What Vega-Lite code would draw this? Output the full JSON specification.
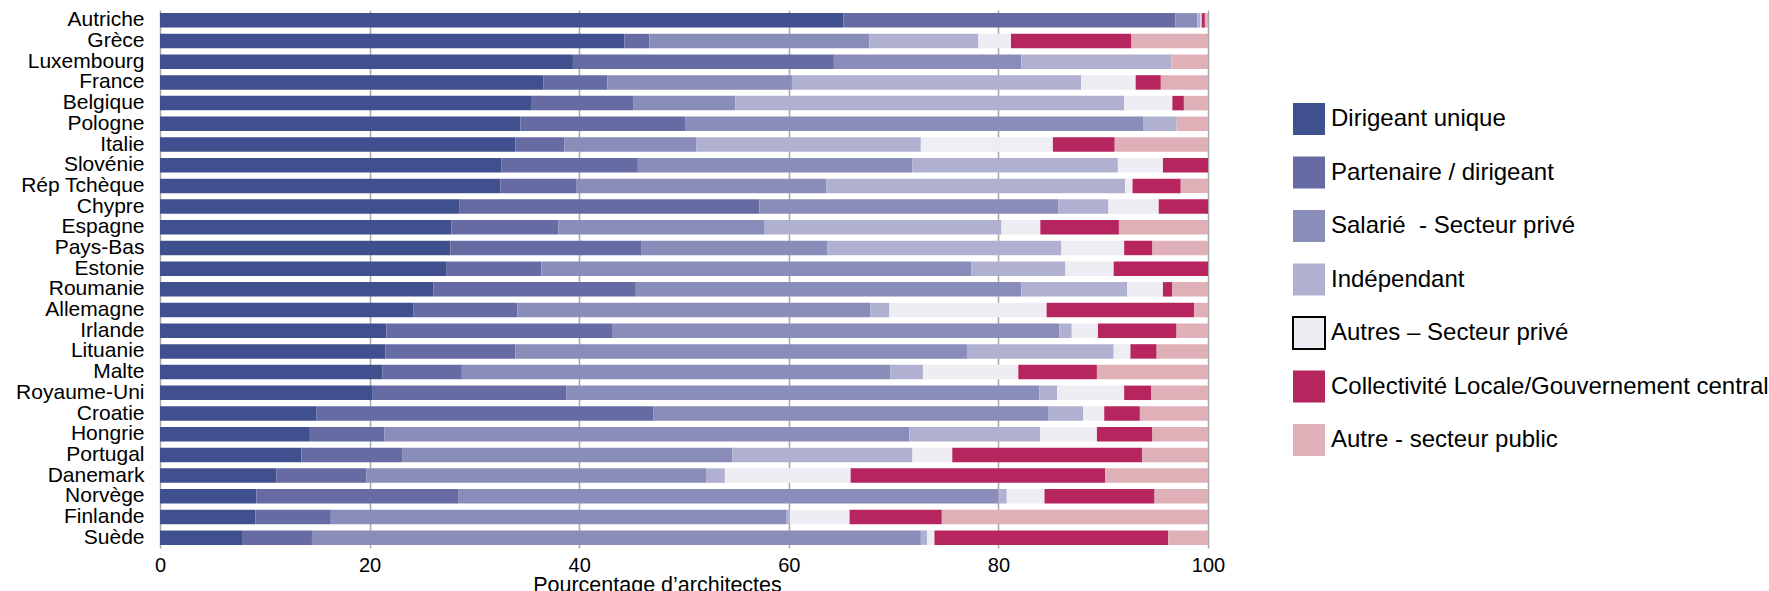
{
  "$schema": "https://vega.github.io/schema/vega-lite/v6.json",
  "width": 1048,
  "height": 538,
  "autosize": {"type": "none"},
  "padding": {"left": 160, "top": 10, "right": 561, "bottom": 43},
  "background": "white",
  "config": {
    "view": {"stroke": null},
    "font": "Liberation Sans",
    "axis": {"labelFont": "Liberation Sans", "titleFont": "Liberation Sans", "labelColor": "black", "titleColor": "black"},
    "legend": {"labelFont": "Liberation Sans", "labelColor": "black"}
  },
  "data": {
    "values": [
      {"pays": "Autriche", "Dirigeant unique": 65.2, "Partenaire / dirigeant": 31.7, "Salarié  - Secteur privé": 2.1, "Indépendant": 0.3, "Autres – Secteur privé": 0.1, "Collectivité Locale/Gouvernement central": 0.3, "Autre - secteur public": 0.3},
      {"pays": "Grèce", "Dirigeant unique": 44.3, "Partenaire / dirigeant": 2.4, "Salarié  - Secteur privé": 21.0, "Indépendant": 10.4, "Autres – Secteur privé": 3.1, "Collectivité Locale/Gouvernement central": 11.5, "Autre - secteur public": 7.3},
      {"pays": "Luxembourg", "Dirigeant unique": 39.4, "Partenaire / dirigeant": 24.9, "Salarié  - Secteur privé": 17.9, "Indépendant": 14.3, "Autres – Secteur privé": 0, "Collectivité Locale/Gouvernement central": 0, "Autre - secteur public": 3.5},
      {"pays": "France", "Dirigeant unique": 36.6, "Partenaire / dirigeant": 6.1, "Salarié  - Secteur privé": 17.6, "Indépendant": 27.6, "Autres – Secteur privé": 5.2, "Collectivité Locale/Gouvernement central": 2.4, "Autre - secteur public": 4.5},
      {"pays": "Belgique", "Dirigeant unique": 35.4, "Partenaire / dirigeant": 9.8, "Salarié  - Secteur privé": 9.7, "Indépendant": 37.1, "Autres – Secteur privé": 4.6, "Collectivité Locale/Gouvernement central": 1.1, "Autre - secteur public": 2.3},
      {"pays": "Pologne", "Dirigeant unique": 34.4, "Partenaire / dirigeant": 15.7, "Salarié  - Secteur privé": 43.7, "Indépendant": 3.2, "Autres – Secteur privé": 0, "Collectivité Locale/Gouvernement central": 0, "Autre - secteur public": 3.0},
      {"pays": "Italie", "Dirigeant unique": 33.9, "Partenaire / dirigeant": 4.7, "Salarié  - Secteur privé": 12.6, "Indépendant": 21.4, "Autres – Secteur privé": 12.6, "Collectivité Locale/Gouvernement central": 5.9, "Autre - secteur public": 8.9},
      {"pays": "Slovénie", "Dirigeant unique": 32.6, "Partenaire / dirigeant": 13.0, "Salarié  - Secteur privé": 26.2, "Indépendant": 19.6, "Autres – Secteur privé": 4.3, "Collectivité Locale/Gouvernement central": 4.3, "Autre - secteur public": 0},
      {"pays": "Rép Tchèque", "Dirigeant unique": 32.5, "Partenaire / dirigeant": 7.2, "Salarié  - Secteur privé": 23.9, "Indépendant": 28.5, "Autres – Secteur privé": 0.7, "Collectivité Locale/Gouvernement central": 4.6, "Autre - secteur public": 2.6},
      {"pays": "Chypre", "Dirigeant unique": 28.6, "Partenaire / dirigeant": 28.6, "Salarié  - Secteur privé": 28.5, "Indépendant": 4.8, "Autres – Secteur privé": 4.8, "Collectivité Locale/Gouvernement central": 4.7, "Autre - secteur public": 0},
      {"pays": "Espagne", "Dirigeant unique": 27.8, "Partenaire / dirigeant": 10.2, "Salarié  - Secteur privé": 19.7, "Indépendant": 22.6, "Autres – Secteur privé": 3.7, "Collectivité Locale/Gouvernement central": 7.5, "Autre - secteur public": 8.5},
      {"pays": "Pays-Bas", "Dirigeant unique": 27.7, "Partenaire / dirigeant": 18.2, "Salarié  - Secteur privé": 17.8, "Indépendant": 22.3, "Autres – Secteur privé": 6.0, "Collectivité Locale/Gouvernement central": 2.7, "Autre - secteur public": 5.3},
      {"pays": "Estonie", "Dirigeant unique": 27.3, "Partenaire / dirigeant": 9.1, "Salarié  - Secteur privé": 41.0, "Indépendant": 9.0, "Autres – Secteur privé": 4.6, "Collectivité Locale/Gouvernement central": 9.0, "Autre - secteur public": 0},
      {"pays": "Roumanie", "Dirigeant unique": 26.1, "Partenaire / dirigeant": 19.3, "Salarié  - Secteur privé": 36.8, "Indépendant": 10.1, "Autres – Secteur privé": 3.4, "Collectivité Locale/Gouvernement central": 0.9, "Autre - secteur public": 3.4},
      {"pays": "Allemagne", "Dirigeant unique": 24.2, "Partenaire / dirigeant": 9.9, "Salarié  - Secteur privé": 33.7, "Indépendant": 1.8, "Autres – Secteur privé": 15.0, "Collectivité Locale/Gouvernement central": 14.1, "Autre - secteur public": 1.3},
      {"pays": "Irlande", "Dirigeant unique": 21.6, "Partenaire / dirigeant": 21.6, "Salarié  - Secteur privé": 42.6, "Indépendant": 1.2, "Autres – Secteur privé": 2.5, "Collectivité Locale/Gouvernement central": 7.5, "Autre - secteur public": 3.0},
      {"pays": "Lituanie", "Dirigeant unique": 21.5, "Partenaire / dirigeant": 12.4, "Salarié  - Secteur privé": 43.1, "Indépendant": 14.0, "Autres – Secteur privé": 1.6, "Collectivité Locale/Gouvernement central": 2.5, "Autre - secteur public": 4.9},
      {"pays": "Malte", "Dirigeant unique": 21.2, "Partenaire / dirigeant": 7.6, "Salarié  - Secteur privé": 40.9, "Indépendant": 3.1, "Autres – Secteur privé": 9.1, "Collectivité Locale/Gouvernement central": 7.5, "Autre - secteur public": 10.6},
      {"pays": "Royaume-Uni", "Dirigeant unique": 20.3, "Partenaire / dirigeant": 18.5, "Salarié  - Secteur privé": 45.1, "Indépendant": 1.7, "Autres – Secteur privé": 6.4, "Collectivité Locale/Gouvernement central": 2.6, "Autre - secteur public": 5.4},
      {"pays": "Croatie", "Dirigeant unique": 14.9, "Partenaire / dirigeant": 32.2, "Salarié  - Secteur privé": 37.7, "Indépendant": 3.3, "Autres – Secteur privé": 2.0, "Collectivité Locale/Gouvernement central": 3.4, "Autre - secteur public": 6.5},
      {"pays": "Hongrie", "Dirigeant unique": 14.3, "Partenaire / dirigeant": 7.1, "Salarié  - Secteur privé": 50.1, "Indépendant": 12.5, "Autres – Secteur privé": 5.4, "Collectivité Locale/Gouvernement central": 5.3, "Autre - secteur public": 5.3},
      {"pays": "Portugal", "Dirigeant unique": 13.5, "Partenaire / dirigeant": 9.6, "Salarié  - Secteur privé": 31.5, "Indépendant": 17.2, "Autres – Secteur privé": 3.8, "Collectivité Locale/Gouvernement central": 18.1, "Autre - secteur public": 6.3},
      {"pays": "Danemark", "Dirigeant unique": 11.1, "Partenaire / dirigeant": 8.6, "Salarié  - Secteur privé": 32.4, "Indépendant": 1.8, "Autres – Secteur privé": 12.0, "Collectivité Locale/Gouvernement central": 24.3, "Autre - secteur public": 9.8},
      {"pays": "Norvège", "Dirigeant unique": 9.2, "Partenaire / dirigeant": 19.3, "Salarié  - Secteur privé": 51.5, "Indépendant": 0.8, "Autres – Secteur privé": 3.6, "Collectivité Locale/Gouvernement central": 10.5, "Autre - secteur public": 5.1},
      {"pays": "Finlande", "Dirigeant unique": 9.1, "Partenaire / dirigeant": 7.2, "Salarié  - Secteur privé": 43.5, "Indépendant": 0.3, "Autres – Secteur privé": 5.7, "Collectivité Locale/Gouvernement central": 8.8, "Autre - secteur public": 25.4},
      {"pays": "Suède", "Dirigeant unique": 7.9, "Partenaire / dirigeant": 6.6, "Salarié  - Secteur privé": 58.1, "Indépendant": 0.6, "Autres – Secteur privé": 0.7, "Collectivité Locale/Gouvernement central": 22.3, "Autre - secteur public": 3.8}
    ]
  },
  "transform": [
    {"fold": ["Dirigeant unique", "Partenaire / dirigeant", "Salarié  - Secteur privé", "Indépendant", "Autres – Secteur privé", "Collectivité Locale/Gouvernement central", "Autre - secteur public"], "as": ["categorie", "valeur"]},
    {"calculate": "indexof(['Dirigeant unique', 'Partenaire / dirigeant', 'Salarié  - Secteur privé', 'Indépendant', 'Autres – Secteur privé', 'Collectivité Locale/Gouvernement central', 'Autre - secteur public'], datum.categorie)", "as": "rang"}
  ],
  "mark": {"type": "bar"},
  "encoding": {
    "y": {
      "field": "pays",
      "type": "nominal",
      "sort": ["Autriche", "Grèce", "Luxembourg", "France", "Belgique", "Pologne", "Italie", "Slovénie", "Rép Tchèque", "Chypre", "Espagne", "Pays-Bas", "Estonie", "Roumanie", "Allemagne", "Irlande", "Lituanie", "Malte", "Royaume-Uni", "Croatie", "Hongrie", "Portugal", "Danemark", "Norvège", "Finlande", "Suède"],
      "scale": {"paddingInner": 0.3, "paddingOuter": 0.15},
      "axis": {"title": null, "domain": false, "ticks": false, "grid": false, "labelFontSize": 21, "labelPadding": 16, "labelLimit": 300}
    },
    "x": {
      "field": "valeur",
      "type": "quantitative",
      "stack": "zero",
      "scale": {"domain": [0, 100], "nice": false},
      "axis": {"title": "Pourcentage d’architectes", "titleFontSize": 21.5, "titleFontWeight": "normal", "titlePadding": -1, "titleX": 497, "titleAlign": "center", "values": [0, 20, 40, 60, 80, 100], "labelFontSize": 20, "labelPadding": 7, "domain": false, "ticks": false, "grid": true, "gridColor": "#a6a6a6", "gridWidth": 1.5, "labelFlush": false}
    },
    "color": {
      "field": "categorie",
      "type": "nominal",
      "scale": {
        "domain": ["Dirigeant unique", "Partenaire / dirigeant", "Salarié  - Secteur privé", "Indépendant", "Autres – Secteur privé", "Collectivité Locale/Gouvernement central", "Autre - secteur public"],
        "range": ["#40508f", "#666ba3", "#8a8cba", "#b0b0d0", "#eeedf4", "#b7255e", "#e0b0b8"]
      },
      "legend": {
        "title": null,
        "orient": "none",
        "legendX": 1132,
        "legendY": 92,
        "padding": 0,
        "symbolType": "square",
        "symbolSize": 1024,
        "symbolOpacity": 1,
        "labelFontSize": 24,
        "labelOffset": 5,
        "labelLimit": 600,
        "rowPadding": 13.5,
        "labelExpr": "replace(datum.label, '  ', ' \u00a0')",
        "encode": {
          "symbols": {
            "update": {
              "stroke": {"signal": "datum.label === 'Autres – Secteur privé' ? 'black' : 'transparent'"},
              "strokeWidth": {"value": 2}
            }
          }
        }
      }
    },
    "order": {"field": "rang", "type": "quantitative"}
  }
}
